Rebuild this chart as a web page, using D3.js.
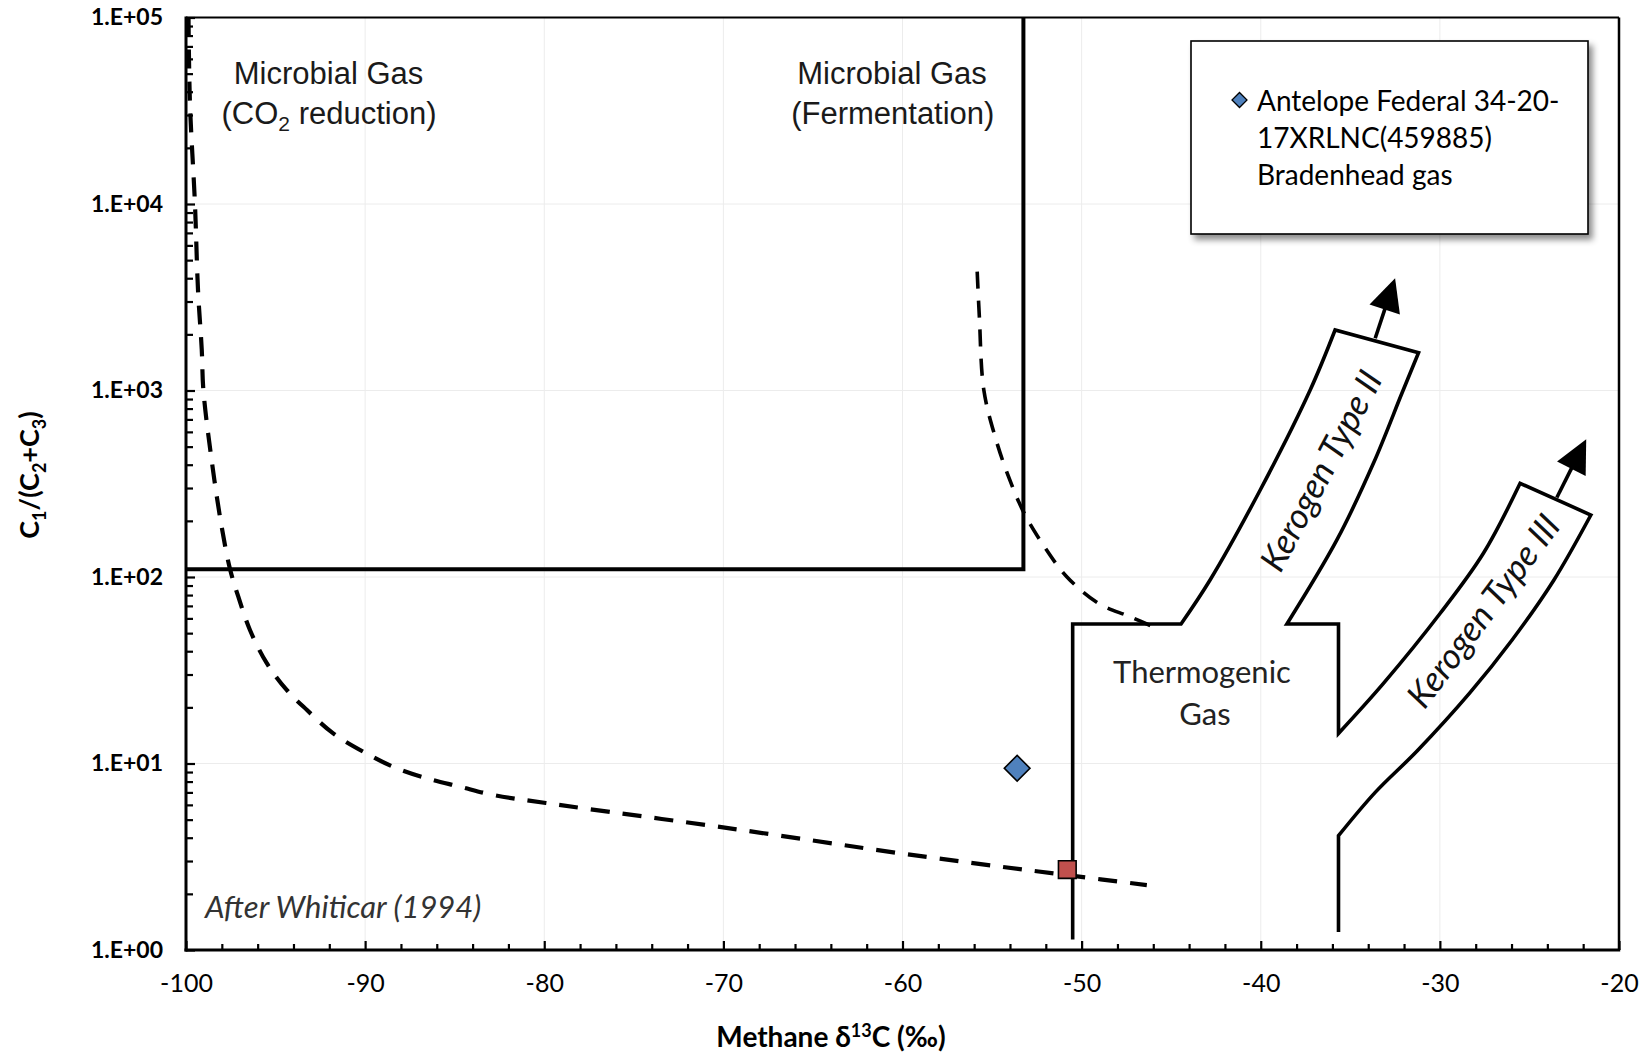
<!DOCTYPE html>
<html><head><meta charset="utf-8">
<script src="https://cdn.jsdelivr.net/npm/d3@7"></script>
<style>
html,body{margin:0;padding:0;background:#fff;}
svg{display:block;}
</style></head>
<body>
<svg id="chart" width="1646" height="1057"></svg>
<script>
// ---------------- data ----------------
const xTickValues = [-100, -90, -80, -70, -60, -50, -40, -30, -20];
const xTickLabels = ["-100", "-90", "-80", "-70", "-60", "-50", "-40", "-30", "-20"];
const yTickValues = [1, 10, 100, 1000, 10000, 100000];
const yTickLabels = ["1.E+00", "1.E+01", "1.E+02", "1.E+03", "1.E+04", "1.E+05"];

// Whiticar (1994) CO2-reduction / thermogenic boundary (dashed)
const whiticarCurve = [
  [-99.86, 100000], [-99.78, 34700], [-99.50, 10000], [-99.33, 3460], [-99.12, 1650],
  [-99.03, 1006], [-98.57, 424], [-98.01, 186], [-97.54, 110], [-97.08, 78.4],
  [-96.43, 52], [-95.49, 34.5], [-94.38, 24.8], [-93.26, 19.4], [-91.78, 14.5],
  [-89.91, 11.3], [-88.43, 9.6], [-86.56, 8.33], [-84.70, 7.51], [-82.84, 6.78],
  [-79.91, 6.14], [-69.36, 4.45], [-60.13, 3.30], [-54.55, 2.80], [-50.8, 2.52], [-46.36, 2.23]
];
// Fermentation boundary (dashed)
const fermentationCurve = [
  [-55.83, 4335], [-55.71, 2488], [-55.46, 1006], [-54.83, 565], [-54.08, 345],
  [-53.21, 220], [-52.08, 145.5], [-50.83, 100.4], [-49.07, 72.3], [-47.31, 61.3], [-45.81, 53.1]
];
// Microbial gas field boundary
const microbialBox = [[-100, 110], [-53.25, 110], [-53.25, 100000]];

// Thermogenic field with kerogen type II / III branches (pieces; curved = smooth edge)
const thermoPieces = [
  { curved: false, pts: [[-50.5, 1.14], [-50.5, 56], [-44.45, 56]] },
  { curved: true,  pts: [[-44.45, 56], [-42.83, 96.4], [-40.03, 292.8], [-37.24, 1006], [-35.85, 2110]] },
  { curved: false, pts: [[-35.85, 2110], [-31.19, 1595]] },
  { curved: true,  pts: [[-31.19, 1595], [-32.12, 966], [-33.71, 407], [-35.75, 158], [-38.54, 56]] },
  { curved: false, pts: [[-38.54, 56], [-35.66, 56], [-35.66, 14.5]] },
  { curved: true,  pts: [[-35.66, 14.5], [-33.15, 26.9], [-29.98, 63.9], [-27.57, 134], [-25.52, 318]] },
  { curved: false, pts: [[-25.52, 318], [-21.57, 215]] },
  { curved: true,  pts: [[-21.57, 215], [-23.65, 95.8], [-25.98, 45.8], [-28.33, 23.9], [-31.26, 11.7], [-33.61, 7.0], [-35.66, 4.1]] },
  { curved: false, pts: [[-35.66, 4.1], [-35.66, 1.25]] }
];
const kerogenArrows = [
  { base: [-33.61, 1905], tip: [-32.50, 3998] },
  { base: [-23.47, 267],  tip: [-21.83, 548] }
];

const sampleDiamond = [[-53.6, 9.43]];
const sampleSquare = [[-50.8, 2.70]];
const legendLines = ["Antelope Federal 34-20-", "17XRLNC(459885)", "Bradenhead gas"];

// ---------------- chart ----------------
const svg = d3.select("#chart");
const L = 186, R = 1619, T = 17.5, B = 950;
const x = d3.scaleLinear().domain([-100, -20]).range([L, R]);
const y = d3.scaleLog().domain([1, 100000]).range([B, T]);

const defs = svg.append("defs");
const f = defs.append("filter").attr("id", "shadow").attr("x", "-10%").attr("y", "-10%").attr("width", "130%").attr("height", "130%");
f.append("feDropShadow").attr("dx", 4).attr("dy", 5).attr("stdDeviation", 3).attr("flood-color", "#000").attr("flood-opacity", 0.45);

// gridlines
const grid = svg.append("g");
grid.selectAll("line.gx").data(xTickValues.slice(1, -1)).join("line")
  .attr("x1", d => x(d)).attr("x2", d => x(d)).attr("y1", T).attr("y2", B)
  .attr("stroke", "#ececec").attr("stroke-width", 1);
grid.selectAll("line.gy").data(yTickValues.slice(1, -1)).join("line")
  .attr("y1", d => y(d)).attr("y2", d => y(d)).attr("x1", L).attr("x2", R)
  .attr("stroke", "#ececec").attr("stroke-width", 1);

// axes
const minorX = d3.range(-98, -20, 2).filter(v => v % 10 !== 0);
const minorY = [];
[1, 10, 100, 1000, 10000].forEach(dec => { for (let k = 2; k <= 9; k++) minorY.push(dec * k); });

const xAxisG = svg.append("g").attr("transform", `translate(0,${B})`)
  .call(d3.axisBottom(x).tickValues(xTickValues).tickFormat((d, i) => xTickLabels[i]).tickSizeInner(-9).tickSizeOuter(0).tickPadding(24));
const xMinorG = svg.append("g").attr("transform", `translate(0,${B})`)
  .call(d3.axisBottom(x).tickValues(minorX).tickFormat("").tickSizeInner(-6).tickSizeOuter(0));
const yAxisG = svg.append("g").attr("transform", `translate(${L},0)`)
  .call(d3.axisLeft(y).tickValues(yTickValues).tickFormat((d, i) => yTickLabels[i]).tickSizeInner(-9).tickSizeOuter(0).tickPadding(23));
const yMinorG = svg.append("g").attr("transform", `translate(${L},0)`)
  .call(d3.axisLeft(y).tickValues(minorY).tickFormat("").tickSizeInner(-7).tickSizeOuter(0));
[xAxisG, xMinorG, yAxisG, yMinorG].forEach(g => {
  g.select(".domain").remove();
  g.selectAll(".tick line").attr("stroke", "#000").attr("stroke-width", 2.2);
});
xAxisG.selectAll("text").attr("font-family", "Lato, sans-serif").attr("font-size", 25).attr("fill", "#000");
yAxisG.selectAll("text").attr("font-family", "Lato, sans-serif").attr("font-size", 23).attr("font-weight", "bold").attr("fill", "#000");

// frame
svg.append("line").attr("x1", L).attr("x2", R).attr("y1", T).attr("y2", T).attr("stroke", "#000").attr("stroke-width", 2.2);
svg.append("line").attr("x1", R).attr("x2", R).attr("y1", T).attr("y2", B).attr("stroke", "#000").attr("stroke-width", 2.5);
svg.append("line").attr("x1", L).attr("x2", L).attr("y1", T - 1).attr("y2", B + 1.5).attr("stroke", "#000").attr("stroke-width", 3);
svg.append("line").attr("x1", L - 1.5).attr("x2", R + 1.2).attr("y1", B).attr("y2", B).attr("stroke", "#000").attr("stroke-width", 3);

// curves
const lineLin = d3.line().x(d => x(d[0])).y(d => y(d[1]));
const lineSmooth = d3.line().x(d => x(d[0])).y(d => y(d[1])).curve(d3.curveCatmullRom.alpha(0.5));

svg.append("path").attr("d", lineSmooth(whiticarCurve))
  .attr("fill", "none").attr("stroke", "#000").attr("stroke-width", 4.2).attr("stroke-dasharray", "19,13");
svg.append("path").attr("d", lineSmooth(fermentationCurve))
  .attr("fill", "none").attr("stroke", "#000").attr("stroke-width", 3.6).attr("stroke-dasharray", "17,12");

svg.append("path").attr("d", lineLin(microbialBox))
  .attr("fill", "none").attr("stroke", "#000").attr("stroke-width", 4).attr("stroke-linejoin", "miter");

const thermoD = thermoPieces.map((p, i) => {
  const s = (p.curved ? lineSmooth : lineLin)(p.pts);
  return i ? s.replace(/^M/, "L") : s;
}).join("");
svg.append("path").attr("d", thermoD).attr("fill", "none").attr("stroke", "#000")
  .attr("stroke-width", 3.6).attr("stroke-linejoin", "miter").attr("stroke-miterlimit", 10);

// arrows
kerogenArrows.forEach(a => {
  const bx = x(a.base[0]), by = y(a.base[1]), tx = x(a.tip[0]), ty = y(a.tip[1]);
  const dx = tx - bx, dy = ty - by, len = Math.hypot(dx, dy);
  const ux = dx / len, uy = dy / len, px = -uy, py = ux;
  const headL = 33, headW = 16;
  const hx = tx - ux * headL, hy = ty - uy * headL;
  svg.append("line").attr("x1", bx).attr("y1", by).attr("x2", hx + ux * 2).attr("y2", hy + uy * 2)
    .attr("stroke", "#000").attr("stroke-width", 3.6);
  svg.append("path").attr("d", `M${tx},${ty}L${hx + px * headW},${hy + py * headW}L${hx - px * headW},${hy - py * headW}Z`)
    .attr("fill", "#000");
});

// text labels
const lab = svg.append("g");
function txt(xp, yp, s, opts) {
  const t = lab.append("text").attr("x", xp).attr("y", yp).attr("text-anchor", opts.anchor || "middle")
    .attr("font-family", opts.family).attr("font-size", opts.size).attr("fill", opts.fill || "#1a1a1a");
  if (opts.style) t.attr("font-style", opts.style);
  if (opts.weight) t.attr("font-weight", opts.weight);
  if (opts.transform) t.attr("transform", opts.transform);
  if (opts.baseline) t.attr("dominant-baseline", opts.baseline);
  if (s !== null) t.text(s);
  return t;
}
const arial = "'Liberation Sans', Arial, sans-serif";
txt(328.5, 84, "Microbial Gas", { family: arial, size: 31 });
const co2 = txt(329, 124, null, { family: arial, size: 31 });
co2.append("tspan").text("(CO");
co2.append("tspan").attr("font-size", 21).attr("dy", 7).text("2");
co2.append("tspan").attr("dy", -7).text(" reduction)");
txt(892, 83.5, "Microbial Gas", { family: arial, size: 31 });
txt(892.8, 124, "(Fermentation)", { family: arial, size: 31 });

txt(205, 918, "After Whiticar (1994)", { family: "Lato, sans-serif", size: 31, style: "italic", anchor: "start", fill: "#333" });
txt(1202, 683, "Thermogenic", { family: "Lato, sans-serif", size: 31, fill: "#222" });
txt(1205, 725, "Gas", { family: "Lato, sans-serif", size: 31, fill: "#222" });
txt(0, 0, "Kerogen Type II", { family: "Lato, sans-serif", size: 35, style: "italic", fill: "#111", baseline: "central",
  transform: "translate(1319.5,470) rotate(-62.2)" });
txt(0, 0, "Kerogen Type III", { family: "Lato, sans-serif", size: 35, style: "italic", fill: "#111", baseline: "central",
  transform: "translate(1482,610) rotate(-53.3)" });

// axis titles
const xt = txt(831, 1047, null, { family: "Lato, sans-serif", size: 28, weight: "bold", fill: "#000" });
xt.append("tspan").text("Methane \u03B4");
xt.append("tspan").attr("font-size", 18).attr("dy", -10).text("13");
xt.append("tspan").attr("dy", 10).text("C (\u2030)");

const yt = txt(0, 0, null, { family: "Lato, sans-serif", size: 27, weight: "bold", fill: "#000", transform: "translate(39,475) rotate(-90)" });
yt.append("tspan").text("C");
yt.append("tspan").attr("font-size", 18).attr("dy", 7).text("1");
yt.append("tspan").attr("dy", -7).text("/(C");
yt.append("tspan").attr("font-size", 18).attr("dy", 7).text("2");
yt.append("tspan").attr("dy", -7).text("+C");
yt.append("tspan").attr("font-size", 18).attr("dy", 7).text("3");
yt.append("tspan").attr("dy", -7).text(")");

// markers
const diamondSym = d3.symbol().type(d3.symbolSquare).size(330);
svg.selectAll("path.dia").data(sampleDiamond).join("path")
  .attr("d", diamondSym).attr("transform", d => `translate(${x(d[0])},${y(d[1])}) rotate(45)`)
  .attr("fill", "#4F81BD").attr("stroke", "#000").attr("stroke-width", 1.6);
const squareSym = d3.symbol().type(d3.symbolSquare).size(313);
svg.selectAll("path.sq").data(sampleSquare).join("path")
  .attr("d", squareSym).attr("transform", d => `translate(${x(d[0])},${y(d[1])})`)
  .attr("fill", "#C0504D").attr("stroke", "#000").attr("stroke-width", 1.6);

// legend
const lg = svg.append("g");
lg.append("rect").attr("x", 1191).attr("y", 41).attr("width", 397).attr("height", 193)
  .attr("fill", "#fff").attr("stroke", "#000").attr("stroke-width", 1.6).attr("filter", "url(#shadow)");
lg.append("path").attr("d", d3.symbol().type(d3.symbolSquare).size(112))
  .attr("transform", "translate(1239.5,100) rotate(45)")
  .attr("fill", "#4F81BD").attr("stroke", "#000").attr("stroke-width", 1.3);
lg.selectAll("text").data(legendLines).join("text")
  .attr("x", 1257).attr("y", (d, i) => 111 + i * 37)
  .attr("font-family", "Lato, sans-serif").attr("font-size", 28).attr("fill", "#000").text(d => d);
</script>
</body></html>
